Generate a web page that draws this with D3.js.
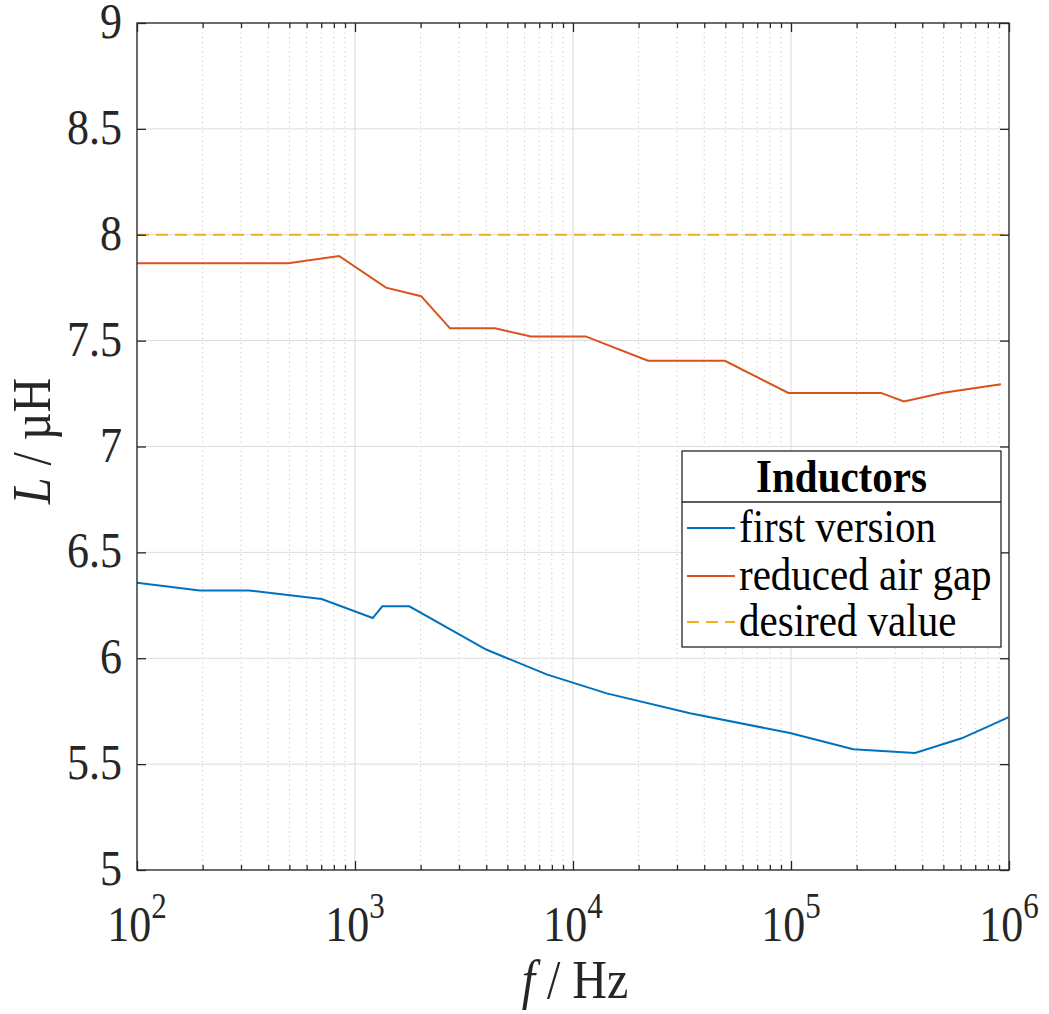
<!DOCTYPE html>
<html><head><meta charset="utf-8">
<script src="https://cdn.jsdelivr.net/npm/d3@7"></script>
<style>body{margin:0;background:#fff}</style>
</head><body>
<svg id="c" width="1049" height="1014"></svg>
<script>
// ---- data ----
const freqFirst = [100, 194, 326, 703, 1206, 1334, 1775, 4018, 7570, 14280, 34400, 98900, 193000, 370600, 606700, 993000];
const valFirst  = [6.357, 6.32, 6.32, 6.28, 6.19, 6.245, 6.245, 6.04, 5.924, 5.834, 5.74, 5.647, 5.57, 5.553, 5.622, 5.721];
const freqReduced = [100, 494, 845, 1387, 2010, 2728, 4385, 6400, 11430, 22080, 49770, 97300, 258800, 329600, 500000, 918000];
const valReduced  = [7.865, 7.865, 7.90, 7.75, 7.71, 7.558, 7.558, 7.52, 7.52, 7.405, 7.405, 7.253, 7.253, 7.213, 7.254, 7.294];
const desiredValue = 8;
const yTickValues = [5, 5.5, 6, 6.5, 7, 7.5, 8, 8.5, 9];
const xTickExponents = [2, 3, 4, 5, 6];
const seriesNames = ["first version", "reduced air gap", "desired value"];
const legendTitle = "Inductors";

// ---- layout ----
const L = 137, R = 1009, T = 23, B = 870;
const svg = d3.select("#c");
const font = "'Liberation Serif', 'Times New Roman', serif";
const SX = 0.87, FS = 1 / 0.87; // narrow, tall Times look
const x = d3.scaleLog().domain([1e2, 1e6]).range([L, R]);
const y = d3.scaleLinear().domain([5, 9]).range([B, T]);
const colors = ["#0072BD", "#D95319", "#EDB120"];
const axisColor = "#262626";

function stext(parent, px, py, size, anchor, rot) {
  return parent.append("text")
    .attr("transform", `translate(${px},${py})${rot ? " rotate(" + rot + ")" : ""} scale(${SX},1)`)
    .attr("text-anchor", anchor).attr("font-family", font).attr("font-size", size * FS);
}

// minor ticks
const minorX = [];
xTickExponents.slice(0, -1).forEach(e => { for (let k = 2; k <= 9; k++) minorX.push(k * Math.pow(10, e)); });
const majorX = xTickExponents.map(e => Math.pow(10, e));

const g = svg.append("g");
g.selectAll(".mg").data(minorX).enter().append("line")
  .attr("x1", d => x(d)).attr("x2", d => x(d)).attr("y1", T).attr("y2", B)
  .attr("stroke", "#c4c4c4").attr("stroke-width", 1).attr("stroke-dasharray", "1.2,3.5");
g.selectAll(".Mg").data(majorX).enter().append("line")
  .attr("x1", d => x(d)).attr("x2", d => x(d)).attr("y1", T).attr("y2", B)
  .attr("stroke", "#dcdcdc").attr("stroke-width", 1);
g.selectAll(".Yg").data(yTickValues).enter().append("line")
  .attr("x1", L).attr("x2", R).attr("y1", d => y(d)).attr("y2", d => y(d))
  .attr("stroke", "#dcdcdc").attr("stroke-width", 1);

// lines
const line = d3.line().x(d => x(d[0])).y(d => y(d[1]));
const dataFirst = freqFirst.map((f, i) => [f, valFirst[i]]);
const dataReduced = freqReduced.map((f, i) => [f, valReduced[i]]);
svg.append("path").datum(dataFirst).attr("d", line).attr("fill", "none")
  .attr("stroke", colors[0]).attr("stroke-width", 2);
svg.append("path").datum(dataReduced).attr("d", line).attr("fill", "none")
  .attr("stroke", colors[1]).attr("stroke-width", 2);
svg.append("line").attr("x1", x(1e2)).attr("x2", x(1e6)).attr("y1", y(desiredValue)).attr("y2", y(desiredValue))
  .attr("stroke", colors[2]).attr("stroke-width", 2).attr("stroke-dasharray", "12,7");

// axes box
svg.append("rect").attr("x", L).attr("y", T).attr("width", R - L).attr("height", B - T)
  .attr("fill", "none").attr("stroke", axisColor).attr("stroke-width", 1.3);

// ticks (inward, all sides)
function styleAxis(sel) {
  sel.select(".domain").remove();
  sel.selectAll(".tick line").attr("stroke", axisColor).attr("stroke-width", 1.3);
}
svg.append("g").attr("transform", `translate(0,${B})`).call(d3.axisBottom(x).tickValues(majorX).tickSize(-9).tickFormat("")).call(styleAxis);
svg.append("g").attr("transform", `translate(0,${T})`).call(d3.axisTop(x).tickValues(majorX).tickSize(-9).tickFormat("")).call(styleAxis);
svg.append("g").attr("transform", `translate(0,${B})`).call(d3.axisBottom(x).tickValues(minorX).tickSize(-5).tickFormat("")).call(styleAxis);
svg.append("g").attr("transform", `translate(0,${T})`).call(d3.axisTop(x).tickValues(minorX).tickSize(-5).tickFormat("")).call(styleAxis);
svg.append("g").attr("transform", `translate(${L},0)`).call(d3.axisLeft(y).tickValues(yTickValues).tickSize(-9).tickFormat("")).call(styleAxis);
svg.append("g").attr("transform", `translate(${R},0)`).call(d3.axisRight(y).tickValues(yTickValues).tickSize(-9).tickFormat("")).call(styleAxis);

// y tick labels
yTickValues.forEach(v => {
  stext(svg, L - 15, y(v) + 15, 44, "end").attr("fill", axisColor).text(v);
});

// x tick labels
xTickExponents.forEach(e => {
  const t = stext(svg, x(Math.pow(10, e)), 941, 44, "middle").attr("fill", axisColor);
  t.append("tspan").text("10");
  t.append("tspan").attr("dy", -23).attr("font-size", 31 * FS).text(e);
});

// axis labels
const xl = stext(svg, 575, 998, 48, "middle").attr("fill", axisColor);
xl.append("tspan").attr("font-style", "italic").text("f");
xl.append("tspan").text(" / Hz");
const yl = stext(svg, 50, 441, 48, "middle", -90).attr("fill", axisColor);
yl.append("tspan").attr("font-style", "italic").text("L");
yl.append("tspan").text(" / µH");

// legend
const lg = svg.append("g");
const lx0 = 682, ly0 = 451, lx1 = 1001, ly1 = 647, lsep = 502;
lg.append("rect").attr("x", lx0).attr("y", ly0).attr("width", lx1 - lx0).attr("height", ly1 - ly0)
  .attr("fill", "#fff").attr("stroke", axisColor).attr("stroke-width", 1.3);
lg.append("line").attr("x1", lx0).attr("x2", lx1).attr("y1", lsep).attr("y2", lsep)
  .attr("stroke", axisColor).attr("stroke-width", 1.3);
stext(lg, (lx0 + lx1) / 2, 492, 41, "middle").attr("font-weight", "bold").attr("fill", "#000").text(legendTitle);
const rowY = [528, 576, 622];
seriesNames.forEach((name, i) => {
  lg.append("line").attr("x1", 687).attr("x2", 735).attr("y1", rowY[i]).attr("y2", rowY[i])
    .attr("stroke", colors[i]).attr("stroke-width", 2)
    .attr("stroke-dasharray", i === 2 ? "12,7" : null);
  stext(lg, 739, rowY[i] + 14, 41, "start").attr("fill", "#000").text(name);
});
</script>
</body></html>
